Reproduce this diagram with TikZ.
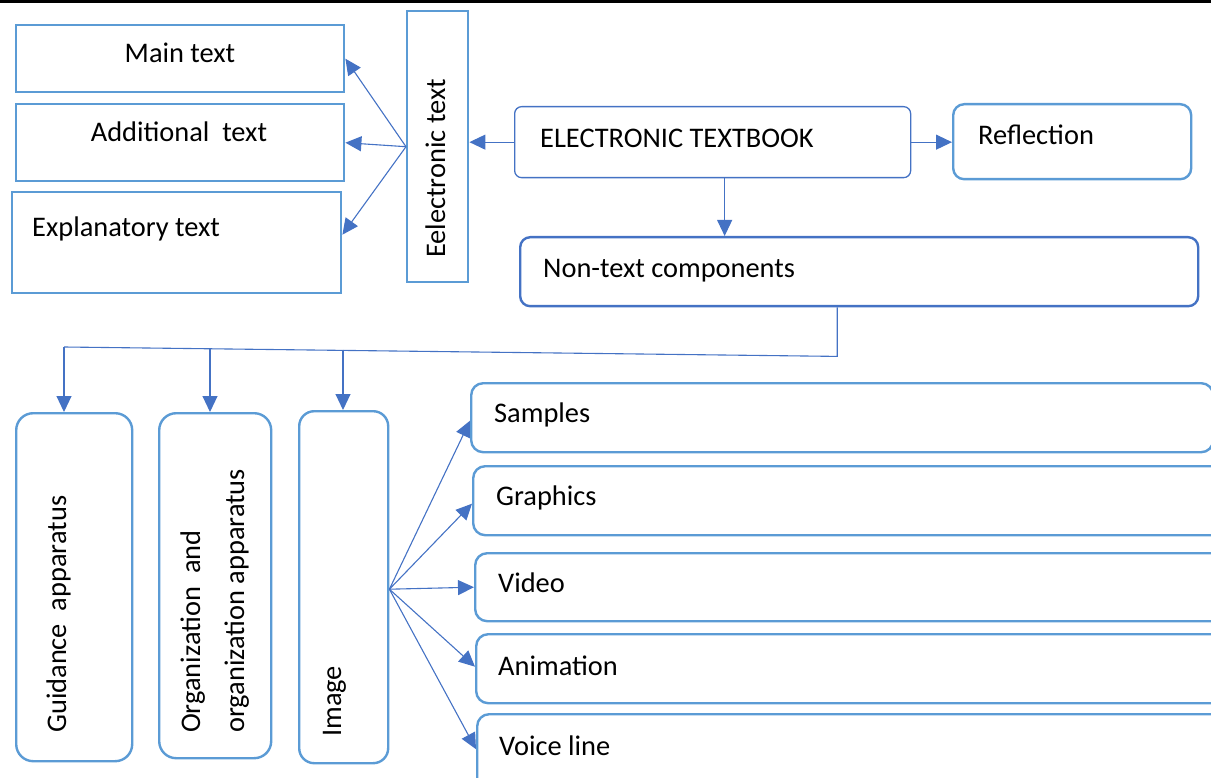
\documentclass[tikz,border=0pt]{standalone}
\usepackage{fontspec}
\setmainfont{Carlito}
\usetikzlibrary{arrows.meta,calc}
\definecolor{boxblue}{HTML}{5B9BD5}
\definecolor{linkblue}{HTML}{4472C4}
\tikzset{
  box/.style={draw=boxblue, line width=2.4pt, inner sep=0pt, anchor=north west, fill=white},
  rbox/.style={box, rounded corners=#1},
  lbl/.style={inner sep=0pt, font=\fontsize{28.4}{44}\selectfont, text=black},
  link/.style={draw=linkblue, line width=1.1pt, -{Triangle[length=16pt,width=15pt]}},
  plain/.style={draw=linkblue, line width=1.1pt},
}
\begin{document}
\begin{tikzpicture}[x=1pt,y=-1pt]
\useasboundingbox (0,0) rectangle (1211,778);
\clip (0,0) rectangle (1211,778);
\fill[black] (0,0) rectangle (1211,3);
% top-left boxes
\node[box, minimum width=328pt, minimum height=67pt] (main) at (15,24) {};
\node[box, minimum width=328pt, minimum height=77pt] (addl) at (15,103) {};
\node[box, minimum width=329pt, minimum height=101pt] (expl) at (11,191) {};
\node[box, minimum width=61pt, minimum height=271pt] (etext) at (406,10) {};
\node[lbl, anchor=base] (tmain) at (180,63) {Main text};
\node[lbl, anchor=base] (taddl) at (179,142) {Additional\ \ text};
\node[lbl, anchor=base west] (texpl) at (32,237) {Explanatory\ text};
\node[lbl, anchor=base west, rotate=90] (tetext) at (445,258) {Eelectronic text};
% textbook, reflection, non-text
\node[rbox=7pt, draw=linkblue, line width=1.3pt, minimum width=396pt, minimum height=71pt] (tb) at (514,106) {};
\node[lbl, anchor=base west] (ttb) at (540,148) {ELECTRONIC TEXTBOOK};
\node[rbox=11pt, minimum width=238pt, minimum height=75pt] (refl) at (952,103) {};
\node[lbl, anchor=base west] (trefl) at (978,145) {Reflection};
\node[rbox=10pt, draw=linkblue, line width=2.4pt, minimum width=678pt, minimum height=69pt] (nt) at (519,236) {};
\node[lbl, anchor=base west] (tnt) at (543,278) {Non-text components};
% connectors top
\draw[link] (etext.west) -- (main.east);
\draw[link] (etext.west) -- (addl.east);
\draw[link] (etext.west) -- ($(expl.east)+(0,-8)$);
\draw[link] (tb.west) -- (tb.west -| etext.east);
\draw[link] (tb.east) -- (tb.east -| refl.west);
\coordinate (tbs) at ($(tb.south)+(12,0)$);
\draw[link] (tbs) -- (tbs |- nt.north);
% bottom column boxes
\node[rbox=17pt, minimum width=116pt, minimum height=348pt] (guid) at (15,412) {};
\node[rbox=17pt, minimum width=112pt, minimum height=345pt] (org) at (158,412) {};
\node[rbox=15pt, minimum width=89pt, minimum height=352pt] (img) at (298,410) {};
\node[lbl, anchor=base west, rotate=90] (tguid) at (66,733) {Guidance\ \ apparatus};
\node[lbl, anchor=base west, rotate=90, align=left] (torg) at (244,733) {Organization\ \ and\\organization apparatus};
\node[lbl, anchor=base west, rotate=90] (timg) at (341,737) {Image};
% bus
\coordinate (b0) at ($(nt.south)+(-22,0)$);
\coordinate (bc) at ($(b0)+(0,49)$);
\coordinate (b1) at (64,347);
\coordinate (b2) at (210,348.3);
\coordinate (b3) at (343,349.5);
\draw[plain] (b0) -- (bc) -- (b1);
\draw[link] (b1) -- (b1 |- guid.north);
\draw[link] (b2) -- (b2 |- org.north);
\draw[link] (b3) -- (b3 |- img.north);
% right boxes
\node[rbox=12pt, minimum width=742pt, minimum height=69pt] (samp) at (470,382) {};
\node[rbox=12pt, minimum width=760pt, minimum height=69pt] (grap) at (472,465) {};
\node[rbox=12pt, minimum width=760pt, minimum height=68pt] (vid) at (474,552) {};
\node[rbox=12pt, minimum width=760pt, minimum height=69pt] (anim) at (475,633) {};
\node[rbox=12pt, minimum width=760pt, minimum height=80pt] (voice) at (476,713) {};
\node[lbl, anchor=base west] (tsamp) at (494,422) {Samples};
\node[lbl, anchor=base west] (tgrap) at (496,505) {Graphics};
\node[lbl, anchor=base west] (tvid) at (498,592) {Video};
\node[lbl, anchor=base west] (tanim) at (498,675) {Animation};
\node[lbl, anchor=base west] (tvoice) at (499,755) {Voice line};
\coordinate (fan) at ($(img.east)+(0,2)$);
\draw[link] (fan) -- ($(samp.west)+(0,3)$);
\draw[link] (fan) -- ($(grap.west)+(0,3)$);
\draw[link] (fan) -- (vid.west);
\draw[link] (fan) -- ($(anim.west)+(0,-2)$);
\draw[link] (fan) -- ($(voice.west)+(0,-5)$);
\end{tikzpicture}
\end{document}
